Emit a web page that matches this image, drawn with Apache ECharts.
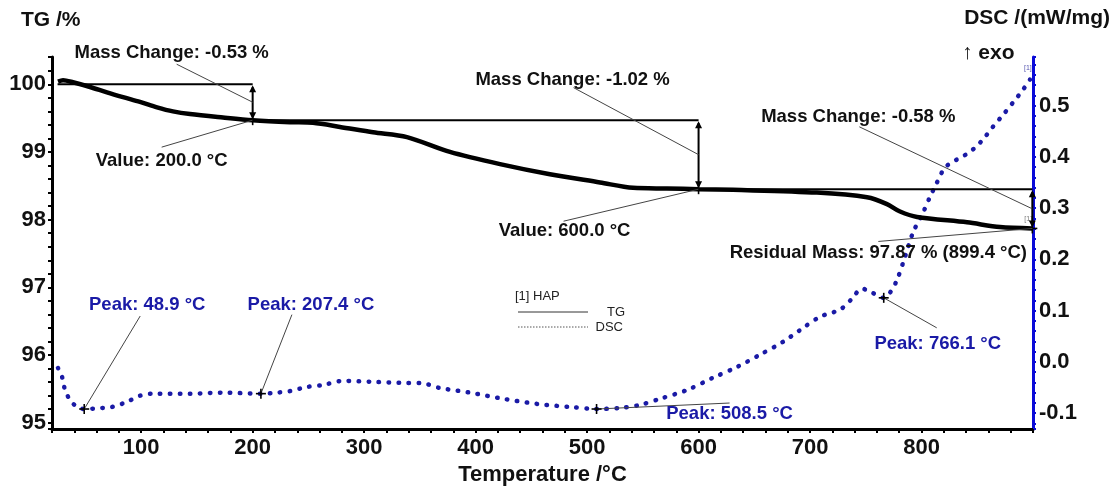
<!DOCTYPE html>
<html>
<head>
<meta charset="utf-8">
<script src="https://cdn.jsdelivr.net/npm/echarts@6/dist/echarts.min.js"></script>
<style>
  html, body { margin: 0; padding: 0; background: #fff; }
  #chart { width: 1112px; height: 490px; }
</style>
</head>
<body>
<div id="chart"></div>
<script>
// TG curve: temperature (°C) and residual mass (%)
const tgTemp = [25.4, 29.9, 38.8, 54.1, 69.3, 83.7, 98.9, 114.2, 128.5, 143.8, 173.4, 200, 233.5, 254.1,
  278.3, 308, 338.4, 377, 421.9, 466.7, 511.6, 541.2, 571.7, 600, 630.9, 706.2, 751.1, 769, 780.7,
  796, 840.8, 870.4, 899.4];
const tgMass = [100.04, 100.06, 100.03, 99.96, 99.88, 99.81, 99.74, 99.66, 99.60, 99.56, 99.51, 99.47, 99.44, 99.43,
  99.37, 99.29, 99.22, 99.00, 98.82, 98.67, 98.55, 98.47, 98.46, 98.45, 98.44, 98.40, 98.33, 98.23, 98.12,
  98.04, 97.96, 97.89, 97.87];

// DSC curve: temperature (°C) and heat flow (mW/mg)
const dscTemp = [25.4, 29.0, 31.7, 36.1, 42.4, 48.9, 64.9, 73.8, 87.3, 98.9, 110.6, 143.8, 173.4, 207.4, 221.8,
  233.5, 248.7, 263.1, 281, 308, 338.4, 350.1, 368, 395, 424.6, 455, 484.7, 508.5, 529.5, 547.5, 565.4,
  589.6, 612.9, 634.5, 655.1, 675.7, 691, 708.9, 726.9, 736.7, 746.6, 755.6, 766.1, 771.7, 778, 785.2, 792.3,
  801.3, 807.6, 812.1, 821, 831.8, 840.8, 848, 855.1, 864.1, 873.1, 882, 891, 897.3];
const dscFlow = [-0.012, -0.029, -0.055, -0.074, -0.088, -0.092, -0.090, -0.088, -0.078, -0.066, -0.062, -0.062, -0.060, -0.062, -0.060,
  -0.057, -0.049, -0.045, -0.037, -0.039, -0.041, -0.041, -0.051, -0.060, -0.072, -0.082, -0.088, -0.092, -0.090, -0.084, -0.072,
  -0.055, -0.031, -0.010, 0.014, 0.039, 0.062, 0.088, 0.102, 0.121, 0.143, 0.135, 0.125, 0.135, 0.160, 0.205, 0.252,
  0.291, 0.322, 0.342, 0.379, 0.395, 0.406, 0.418, 0.434, 0.459, 0.482, 0.506, 0.531, 0.551];

// Mass-change steps: reference level held from stepStart to stepEnd, then the change
const stepStart = [25, 200, 600];
const stepEnd = [200, 600, 899.4];
const stepLevel = [100.00, 99.47, 98.45];
const stepChange = [-0.53, -1.02, -0.58];

// DSC peaks
const peakTemp = [48.9, 207.4, 508.5, 766.1];
const peakFlow = [-0.092, -0.062, -0.092, 0.125];

// Tick labels
const tempTicks = [100, 200, 300, 400, 500, 600, 700, 800];
const tgTicks = [95, 96, 97, 98, 99, 100];
const dscTicks = [-0.1, 0.0, 0.1, 0.2, 0.3, 0.4, 0.5];

// Callout placement (pixel offsets from the annotated point)
const stepCallouts = [
  { change: [-81, -49], changeLead: [-76, -38], value: [-91, 41], valueLead: [-91, 27] },
  { change: [-126, -75], changeLead: [-125, -67], value: [-134, 42], valueLead: [-135, 32] },
  { change: [-174, -92], changeLead: [-173, -82], value: [-154, 24], valueLead: [-154, 13] }
];
const peakCallouts = [
  { text: [63, -104], lead: [56, -93] },
  { text: [50, -89], lead: [31, -79] },
  { text: [133, 5], lead: [133, -6] },
  { text: [54, 46], lead: [53, 30] }
];

const FONT = '"Liberation Sans", Arial, sans-serif';
const INK = '#111111';
const DSC_BLUE = '#1a1aa6';
const AXIS_BLUE = '#0a0ad8';

const near = (list, v, eps) => list.some(t => Math.abs(t - v) < eps);

function textEl(str, x, y, color, size) {
  return {
    type: 'text',
    style: {
      text: str, x: x, y: y, align: 'center', verticalAlign: 'middle',
      fill: color, fontSize: size, fontWeight: 'bold', fontFamily: FONT
    }
  };
}
function lineEl(x1, y1, x2, y2, color, w) {
  return { type: 'line', shape: { x1, y1, x2, y2 }, style: { stroke: color, lineWidth: w } };
}
function plusEl(p) {
  return [lineEl(p[0] - 5, p[1], p[0] + 5, p[1], '#000', 1.6), lineEl(p[0], p[1] - 5, p[0], p[1] + 5, '#000', 1.6)];
}

function renderStep(params, api) {
  const i = params.dataIndex;
  const s = api.value(0), e = api.value(1), lvl = api.value(2), d = api.value(3);
  const a = api.coord([s, lvl]);
  const top = api.coord([e, lvl]);
  const bot = api.coord([e, lvl + d]);
  const x = top[0];
  const mid = [x, (top[1] + bot[1]) / 2];
  const c = stepCallouts[i];
  const valueText = i === stepStart.length - 1
    ? 'Residual Mass: ' + (lvl + d).toFixed(2) + ' % (' + e.toFixed(1) + ' °C)'
    : 'Value: ' + e.toFixed(1) + ' °C';
  const children = [
    lineEl(a[0], a[1], top[0], top[1], '#000', 2),
    lineEl(x, top[1] + 3, x, bot[1] - 3, '#000', 2),
    { type: 'polygon', shape: { points: [[x, top[1] + 1], [x - 3.5, top[1] + 8], [x + 3.5, top[1] + 8]] }, style: { fill: '#000' } },
    { type: 'polygon', shape: { points: [[x, bot[1] - 1], [x - 3.5, bot[1] - 8], [x + 3.5, bot[1] - 8]] }, style: { fill: '#000' } },
    ...plusEl(bot),
    lineEl(mid[0] + c.changeLead[0], mid[1] + c.changeLead[1], mid[0], mid[1], '#444', 1),
    lineEl(bot[0] + c.valueLead[0], bot[1] + c.valueLead[1], bot[0], bot[1], '#444', 1),
    textEl('Mass Change: ' + d.toFixed(2) + ' %', mid[0] + c.change[0], mid[1] + c.change[1], INK, 18.5),
    textEl(valueText, bot[0] + c.value[0], bot[1] + c.value[1], INK, 18.5)
  ];
  return { type: 'group', children };
}

function renderPeak(params, api) {
  const i = params.dataIndex;
  const t = api.value(0);
  const p = api.coord([t, api.value(1)]);
  const c = peakCallouts[i];
  return {
    type: 'group',
    children: [
      lineEl(p[0], p[1], p[0] + c.lead[0], p[1] + c.lead[1], '#444', 1),
      ...plusEl(p),
      textEl('Peak: ' + t.toFixed(1) + ' °C', p[0] + c.text[0], p[1] + c.text[1], DSC_BLUE, 18.5)
    ]
  };
}

const labelStyle = { fontSize: 22, fontWeight: 'bold', color: INK, fontFamily: FONT };

const option = {
  animation: false,
  backgroundColor: '#ffffff',
  grid: { left: 52, right: 79, top: 57, bottom: 61, containLabel: false, outerBoundsMode: 'none' },
  xAxis: {
    type: 'value', min: 20, max: 900, interval: 20,
    axisLine: { onZero: false, lineStyle: { color: '#000', width: 3 } },
    axisTick: { length: 4, lineStyle: { color: '#000', width: 2 } },
    axisLabel: Object.assign({ margin: 8,
      formatter: v => near(tempTicks, v, 1e-6) ? String(Math.round(v)) : '' }, labelStyle),
    splitLine: { show: false },
    name: 'Temperature /°C', nameLocation: 'middle', nameGap: 33,
    nameTextStyle: { fontSize: 22, fontWeight: 'bold', color: INK, fontFamily: FONT }
  },
  yAxis: [
    {
      type: 'value', position: 'left', min: 94.907, max: 100.403, splitNumber: 27,
      axisLine: { show: true, onZero: false, lineStyle: { color: '#000', width: 3 } },
      axisTick: { show: true, length: 4, lineStyle: { color: '#000', width: 2 } },
      axisLabel: Object.assign({ margin: 6,
        formatter: v => near(tgTicks, v, 1e-6) ? String(Math.round(v)) : '' }, labelStyle),
      splitLine: { show: false }
    },
    {
      type: 'value', position: 'right', min: -0.131, max: 0.595, splitNumber: 36,
      axisLine: { show: true, onZero: false, lineStyle: { color: AXIS_BLUE, width: 3 } },
      axisTick: { show: true, length: 3, lineStyle: { color: AXIS_BLUE, width: 2 } },
      axisLabel: Object.assign({ margin: 6,
        formatter: v => near(dscTicks, v, 1e-6) ? v.toFixed(1) : '' }, labelStyle),
      splitLine: { show: false }
    }
  ],
  graphic: [
    { type: 'text', x: 21, y: 20, style: { text: 'TG /%', fontSize: 21, fontWeight: 'bold', fill: INK, fontFamily: FONT, verticalAlign: 'middle' } },
    { type: 'text', x: 1110, y: 18, style: { text: 'DSC /(mW/mg)', fontSize: 21, fontWeight: 'bold', fill: INK, fontFamily: FONT, align: 'right', verticalAlign: 'middle' } },
    { type: 'text', x: 962, y: 53, style: { text: '↑ exo', fontSize: 21, fontWeight: 'bold', fill: INK, fontFamily: FONT, verticalAlign: 'middle' } },
    { type: 'text', x: 515, y: 296, style: { text: '[1] HAP', fontSize: 13, fill: '#222', fontFamily: FONT, verticalAlign: 'middle' } },
    { type: 'line', shape: { x1: 518, y1: 312, x2: 588, y2: 312 }, style: { stroke: '#333', lineWidth: 1 } },
    { type: 'text', x: 625, y: 312, style: { text: 'TG', fontSize: 13, fill: '#222', fontFamily: FONT, align: 'right', verticalAlign: 'middle' } },
    { type: 'line', shape: { x1: 518, y1: 327, x2: 588, y2: 327 }, style: { stroke: '#555', lineWidth: 1, lineDash: [1.5, 1.5] } },
    { type: 'text', x: 623, y: 327, style: { text: 'DSC', fontSize: 13, fill: '#222', fontFamily: FONT, align: 'right', verticalAlign: 'middle' } }
  ],
  series: [
    {
      name: 'TG', type: 'line', yAxisIndex: 0, smooth: 0.3, showSymbol: false, silent: true,
      data: tgTemp.map((t, i) => [t, tgMass[i]]),
      lineStyle: { color: '#000', width: 4.5 },
      endLabel: { show: true, formatter: '[1]', fontSize: 7, color: '#777', offset: [-16, -9] },
      z: 3
    },
    {
      name: 'DSC', type: 'line', yAxisIndex: 1, smooth: 0.3, showSymbol: false, silent: true,
      data: dscTemp.map((t, i) => [t, dscFlow[i]]),
      lineStyle: { color: DSC_BLUE, width: 4.5, type: [0.5, 9.5], cap: 'round' },
      endLabel: { show: true, formatter: '[1]', fontSize: 7, color: '#5555b0', offset: [-14, -11] },
      z: 2
    },
    {
      name: 'steps', type: 'custom', yAxisIndex: 0, clip: false, silent: true, z: 5,
      renderItem: renderStep,
      encode: { x: [0, 1], y: [2] },
      data: stepStart.map((s, i) => [s, stepEnd[i], stepLevel[i], stepChange[i]])
    },
    {
      name: 'peaks', type: 'custom', yAxisIndex: 1, clip: false, silent: true, z: 5,
      renderItem: renderPeak,
      encode: { x: 0, y: 1 },
      data: peakTemp.map((t, i) => [t, peakFlow[i]])
    }
  ]
};

const chart = echarts.init(document.getElementById('chart'), null, { renderer: 'canvas' });
chart.setOption(option);
</script>
</body>
</html>
